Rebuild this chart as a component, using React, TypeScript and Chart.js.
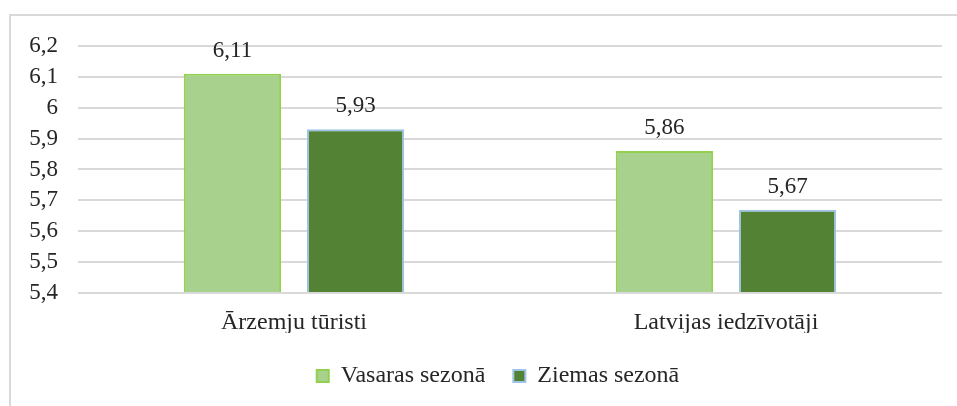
import React, { useEffect, useRef } from "react";
import { Chart, registerables } from "chart.js";

Chart.register(...registerables);

const categories = ["Ārzemju tūristi", "Latvijas iedzīvotāji"];
const seriesNames = ["Vasaras sezonā", "Ziemas sezonā"];
const summerValues = [6.11, 5.86];
const winterValues = [5.93, 5.67];
const yMin = 5.4;
const yMax = 6.2;
const yStep = 0.1;

const fmt = (v: number, digits: number) =>
  String(Number(v.toFixed(digits))).replace(".", ",");

const FONT = "'Liberation Serif', 'Times New Roman', serif";
const TEXT = "#262626";

const valueLabels = {
  id: "valueLabels",
  afterDatasetsDraw(chart: any) {
    const ctx = chart.ctx;
    ctx.save();
    ctx.font = `23px ${FONT}`;
    ctx.fillStyle = TEXT;
    ctx.textAlign = "center";
    ctx.textBaseline = "middle";
    chart.data.datasets.forEach((ds: any, i: number) => {
      const meta = chart.getDatasetMeta(i);
      meta.data.forEach((bar: any, j: number) => {
        ctx.fillText(fmt(ds.data[j], 2), bar.x, bar.y - 23);
      });
    });
    ctx.restore();
  },
};

const legendShift = {
  id: "legendShift",
  afterLayout(chart: any) {
    if (chart.legend) {
      chart.legend.left += 18;
      chart.legend.right += 18;
      chart.legend.top += 3;
      chart.legend.bottom += 3;
    }
  },
};

export default function App() {
  const ref = useRef<HTMLCanvasElement | null>(null);
  useEffect(() => {
    if (!ref.current) return;
    const chart = new Chart(ref.current, {
      type: "bar",
      data: {
        labels: categories,
        datasets: [
          {
            label: seriesNames[0],
            data: summerValues,
            backgroundColor: "#a9d18e",
            borderColor: "#92d050",
            borderWidth: 2,
          },
          {
            label: seriesNames[1],
            data: winterValues,
            backgroundColor: "#548235",
            borderColor: "#9dc3e6",
            borderWidth: 2,
          },
        ],
      },
      options: {
        responsive: false,
        animation: false,
        layout: { padding: { left: 18, right: 15, top: 46, bottom: 11 } },
        datasets: {
          bar: { categoryPercentage: 0.57, barPercentage: 0.79, base: yMin },
        },
        scales: {
          x: {
            grid: { display: false },
            border: { display: false },
            ticks: {
              color: TEXT,
              font: { family: FONT, size: 24 },
              padding: 7,
            },
            afterFit: (axis: any) => {
              axis.height = 40;
            },
          },
          y: {
            min: yMin,
            max: yMax,
            grid: { color: "#d9d9d9", lineWidth: 2, drawTicks: false },
            border: { display: false },
            ticks: {
              stepSize: yStep,
              color: TEXT,
              font: { family: FONT, size: 23 },
              padding: 20,
              callback: (v: any) => fmt(Number(v), 1),
            },
            afterFit: (axis: any) => {
              axis.width = 60;
            },
          },
        },
        plugins: {
          legend: {
            position: "bottom",
            labels: {
              color: TEXT,
              font: { family: FONT, size: 24 },
              boxWidth: 12,
              boxHeight: 12,
              padding: 28,
            },
          },
          tooltip: { enabled: false },
        },
      },
      plugins: [valueLabels, legendShift],
    });
    return () => chart.destroy();
  }, []);

  return (
    <div style={{ position: "fixed", left: 0, top: 0, width: 957, height: 406, background: "#fff", overflow: "hidden" }}>
      <div
        style={{
          position: "absolute",
          left: 9,
          top: 14,
          width: 960,
          height: 400,
          borderLeft: "2px solid #d9d9d9",
          borderTop: "2px solid #d9d9d9",
        }}
      />
      <canvas
        ref={ref}
        width={957}
        height={406}
        style={{ position: "absolute", left: 0, top: 0 }}
      />
    </div>
  );
}
